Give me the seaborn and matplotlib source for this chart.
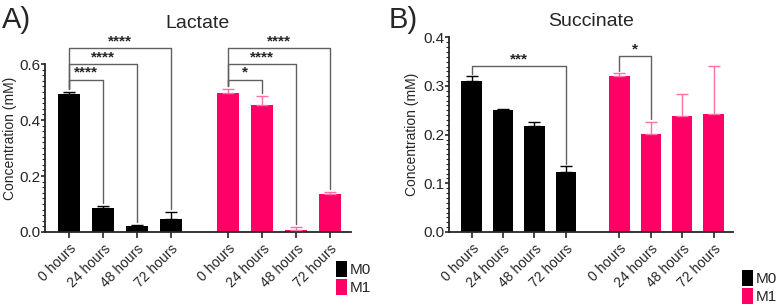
import numpy as np
import pandas as pd
import seaborn as sns
import matplotlib.pyplot as plt
from matplotlib.ticker import MultipleLocator

# --- datos ---
horas = ['0 hours', '24 hours', '48 hours', '72 hours']
grupos = ['M0', 'M1']

lactato_m0 = [0.492, 0.086, 0.023, 0.046]
lactato_m0_err = [0.009, 0.006, 0.003, 0.025]
lactato_m1 = [0.495, 0.455, 0.006, 0.137]
lactato_m1_err = [0.015, 0.030, 0.012, 0.007]

succinato_m0 = [0.311, 0.250, 0.218, 0.1225]
succinato_m0_err = [0.009, 0.003, 0.008, 0.013]
succinato_m1 = [0.320, 0.202, 0.2376, 0.243]
succinato_m1_err = [0.0065, 0.025, 0.045, 0.099]

# corchetes: (barra inicio, barra fin, altura, etiqueta)
corchetes_lactato = [(0, 1, 0.543, '****'), (0, 2, 0.600, '****'), (0, 3, 0.657, '****'),
                     (4, 5, 0.543, '*'), (4, 6, 0.600, '****'), (4, 7, 0.657, '****')]
corchetes_succinato = [(0, 3, 0.341, '***'), (4, 5, 0.361, '*')]

colores = {'M0': '#000000', 'M1': '#FF0066'}
colores_err = {'M0': '#000000', 'M1': '#FF6FA8'}

sns.set_style('ticks')
plt.rcParams['font.family'] = ['Liberation Sans', 'DejaVu Sans']

fig = plt.figure(figsize=(7.77, 3.07), dpi=100)
ax_a = fig.add_axes([0.0579, 0.2443, 0.3938, 0.5472])
ax_b = fig.add_axes([0.5779, 0.2443, 0.3655, 0.6342])

HUECO = 1.7  # separación entre grupos


def panel(ax, m0, m0e, m1, m1e, corchetes, ymax, paso, paso_menor, titulo, pad, gap, capsize):
    pos = [i for i in range(4)] + [3 + HUECO + i for i in range(4)]
    df = pd.DataFrame({
        'pos': pos,
        'valor': list(m0) + list(m1),
        'error': list(m0e) + list(m1e),
        'grupo': ['M0'] * 4 + ['M1'] * 4,
    })
    sns.barplot(data=df, x='pos', y='valor', hue='grupo', palette=colores,
                native_scale=True, dodge=False, width=0.65, ax=ax, legend=True,
                linewidth=0, saturation=1)
    for g in grupos:
        sub = df[df['grupo'] == g]
        ax.errorbar(sub['pos'], sub['valor'], yerr=[np.zeros(len(sub)), sub['error']],
                    fmt='none', ecolor=colores_err[g], elinewidth=1.0, capsize=capsize,
                    capthick=1.0, zorder=3)

    tops = (df['valor'] + df['error']).values
    for i, j, h, lab in corchetes:
        xi, xj = df['pos'][i], df['pos'][j]
        ax.plot([xi, xi, xj, xj], [tops[i] + gap, h, h, tops[j] + gap],
                color='#606060', lw=1.0, clip_on=False, zorder=4)
        ax.text((xi + xj) / 2, h, lab, ha='center', va='bottom', fontsize=11,
                fontweight='bold', clip_on=False)

    ax.set_xlim(-0.72, 8.32)
    ax.set_ylim(0, ymax)
    ax.yaxis.set_major_locator(MultipleLocator(paso))
    ax.yaxis.set_minor_locator(MultipleLocator(paso_menor))
    ax.set_xticks(pos)
    ax.set_xticklabels(horas * 2, rotation=45, ha='right', rotation_mode='anchor', fontsize=10)
    ax.tick_params(axis='y', labelsize=11, length=3, width=1.2, pad=0.5)
    ax.tick_params(axis='y', which='minor', length=2, width=0.8)
    ax.tick_params(axis='x', length=4, width=1.2, pad=3)
    for s in ['left', 'bottom']:
        ax.spines[s].set_linewidth(1.3)
    sns.despine(ax=ax)
    ax.set_xlabel('')
    ax.set_ylabel('Concentration (mM)', fontsize=10, labelpad=3)
    ax.set_title(titulo, fontsize=14, pad=pad)


panel(ax_a, lactato_m0, lactato_m0_err, lactato_m1, lactato_m1_err, corchetes_lactato,
      0.6, 0.2, 0.02, 'Lactate', 26, 0.01, 4.5)
panel(ax_b, succinato_m0, succinato_m0_err, succinato_m1, succinato_m1_err, corchetes_succinato,
      0.4, 0.1, 0.01, 'Succinate', 8, 0.005, 4)
ax_a.yaxis.set_label_coords(-0.09, 0.56)

for ax, (lx, ly) in [(ax_a, (0.433, 0.150)), (ax_b, (0.955, 0.121))]:
    ax.legend(loc='upper left', bbox_to_anchor=(lx, ly), bbox_transform=fig.transFigure,
              frameon=False, fontsize=11, handlelength=0.7, handleheight=1.2,
              handletextpad=0.2, labelspacing=0.15, borderpad=0, borderaxespad=0, title=None)

fig.text(0.003, 1 - 20 / 307, 'A)', fontsize=21, va='center', ha='left')
fig.text(0.500, 1 - 20 / 307, 'B)', fontsize=21, va='center', ha='left')

plt.savefig('out.png', dpi=100)
